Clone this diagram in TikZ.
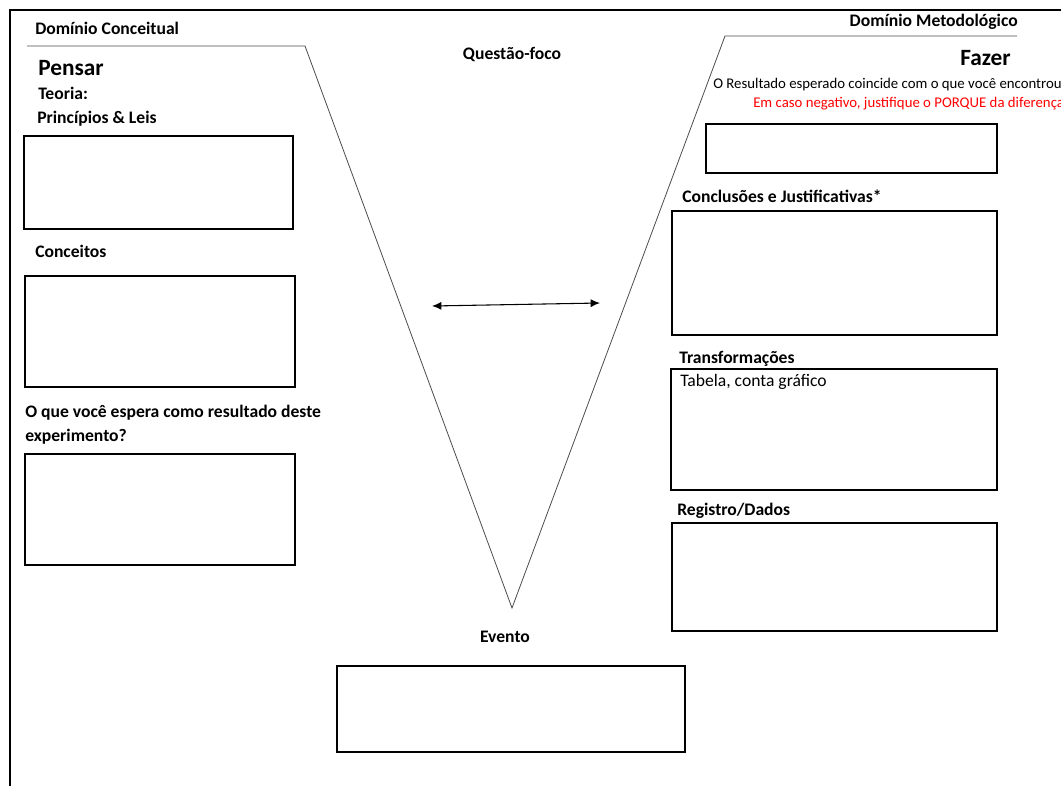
\documentclass[tikz,border=0pt]{standalone}
\usepackage{fontspec}
\setmainfont{Carlito}
\usetikzlibrary{arrows.meta}

\begin{document}
\begin{tikzpicture}[x=0.75pt,y=-0.75pt,
	campo/.style={draw=black,line width=1.1pt},
	traco/.style={draw=black!70,line width=0.6pt},
	titulo/.style={font=\bfseries\fontsize{13.2}{15}\selectfont,inner sep=0pt},
	grande/.style={font=\bfseries\fontsize{17.5}{20}\selectfont,inner sep=0pt},
	texto/.style={font=\fontsize{11.1}{14}\selectfont,inner sep=0pt}]
	\useasboundingbox (0,0) rectangle (1061,786);
	
	% moldura
	\draw[line width=1.4pt] (10,786) -- (10,10) -- (1061,10);
	
	% o V
	\draw[traco] (27,46) -- (305,46) -- (512,608) -- (725,36) -- (1017,36);
	
	% lado conceitual
	\node[titulo,anchor=west] (dconc) at (35,28) {Domínio Conceitual};
	\node[grande,anchor=west] (pensar) at (38,68) {Pensar};
	\node[titulo,anchor=west] (teoria) at (38,93) {Teoria:};
	\node[titulo,anchor=west] (leis) at (37,119) {Princípios \& Leis};
	\draw[campo] (24,136) rectangle (293,229);
	
	\node[titulo,anchor=west] (conceitos) at (35,251) {Conceitos};
	\draw[campo] (25,276) rectangle (295,387);
	
	\node[titulo,anchor=west] (espera) at (25,413) {O que você espera como resultado deste};
	\node[titulo,anchor=west] (exper) at (25,437) {experimento?};
	\draw[campo] (25,454) rectangle (295,565);
	
	% centro
	\node[titulo] (questao) at (512,54) {Questão-foco};
	\coordinate (esq) at (432,306);
	\coordinate (dir) at (600,303);
	\draw[{Latex[length=7pt,width=6pt]}-{Latex[length=7pt,width=6pt]},line width=0.8pt] (esq) -- (dir);
	
	\node[titulo] (evento) at (505,637) {Evento};
	\draw[campo] (337,666) rectangle (685,752);
	
	% lado metodologico
	\node[titulo,anchor=east] (dmet) at (1018,22) {Domínio Metodológico};
	\node[grande,anchor=east] (fazer) at (1011,58) {Fazer};
	\node[texto,anchor=west] (resultado) at (713,85) {O Resultado esperado coincide com o que você encontrou?};
	\node[texto,anchor=west,text=red] (negativo) at (753,104) {Em caso negativo, justifique o PORQUE da diferença.};
	\draw[campo] (706,124) rectangle (997,173);
	
	\node[titulo,anchor=west] (conclusoes) at (682,196) {Conclusões e Justificativas*};
	\draw[campo] (672,211) rectangle (997,335);
	
	\node[titulo,anchor=west] (transf) at (679,359) {Transformações};
	\draw[campo] (671,369) rectangle (997,490);
	\node[texto,anchor=west,font=\fontsize{13.2}{15}\selectfont] (tabela) at (680,382) {Tabela, conta gráfico};
	
	\node[titulo,anchor=west] (registro) at (677,511) {Registro/Dados};
	\draw[campo] (672,523) rectangle (997,631);
\end{tikzpicture}
\end{document}
